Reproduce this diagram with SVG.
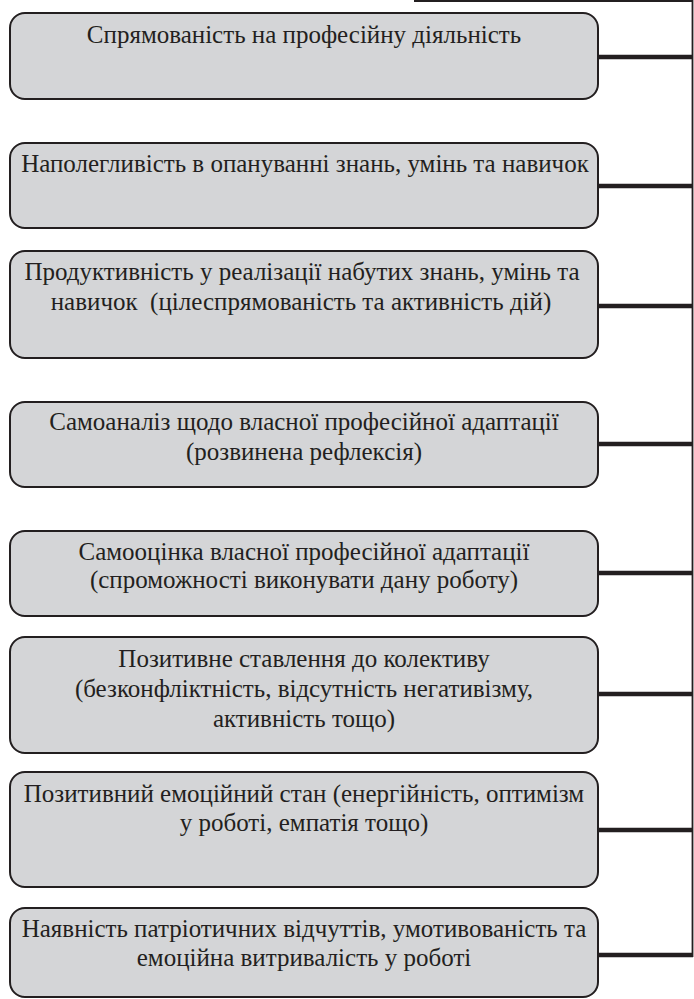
<svg xmlns="http://www.w3.org/2000/svg" width="694" height="999" viewBox="0 0 694 999">
<style>
.box{fill:#d4d5d7;stroke:#231f20;stroke-width:2}
.t{font-family:"Liberation Serif","Times New Roman",serif;font-size:25px;fill:#231f20;text-anchor:middle}
.c{stroke:#231f20;fill:none}
.thick{stroke-width:4.5}
.thin{stroke-width:1.8}
</style>
<rect width="694" height="999" fill="#ffffff"/>
<g id="connectors">
<path class="c thin" d="M414 1 H692.5 V957"/>
<path class="c thick" d="M598 57 H693"/>
<path class="c thick" d="M598 186 H693"/>
<path class="c thick" d="M598 306 H693"/>
<path class="c thick" d="M598 444 H693"/>
<path class="c thick" d="M598 573 H693"/>
<path class="c thick" d="M598 694 H693"/>
<path class="c thick" d="M598 830 H693"/>
<path class="c thick" d="M598 955 H693"/>
</g>
<g id="n1"><rect class="box" x="10" y="13" width="588" height="86" rx="15"/>
<text class="t" x="304" y="43">Спрямованість на професійну діяльність</text></g>
<g id="n2"><rect class="box" x="10" y="143" width="588" height="85" rx="15"/>
<text class="t" x="305" y="172">Наполегливість в опануванні знань, умінь та навичок</text></g>
<g id="n3"><rect class="box" x="10" y="251" width="588" height="107" rx="15"/>
<text class="t" x="302" y="280">Продуктивність у реалізації набутих знань, умінь та</text>
<text class="t" x="301" y="310">навичок&#160; (цілеспрямованість та активність дій)</text></g>
<g id="n4"><rect class="box" x="10" y="402" width="588" height="85" rx="15"/>
<text class="t" x="304" y="430">Самоаналіз щодо власної професійної адаптації</text>
<text class="t" x="304" y="460">(розвинена рефлексія)</text></g>
<g id="n5"><rect class="box" x="10" y="531" width="588" height="85" rx="15"/>
<text class="t" x="304" y="560">Самооцінка власної професійної адаптації</text>
<text class="t" x="304" y="588">(спроможності виконувати дану роботу)</text></g>
<g id="n6"><rect class="box" x="10" y="637" width="588" height="116" rx="15"/>
<text class="t" x="304" y="667">Позитивне ставлення до колективу</text>
<text class="t" x="304" y="697">(безконфліктність, відсутність негативізму,</text>
<text class="t" x="304" y="727">активність тощо)</text></g>
<g id="n7"><rect class="box" x="10" y="772" width="588" height="115" rx="15"/>
<text class="t" x="304" y="802">Позитивний емоційний стан (енергійність, оптимізм</text>
<text class="t" x="304" y="831">у роботі, емпатія тощо)</text></g>
<g id="n8"><rect class="box" x="10" y="908" width="588" height="89" rx="15"/>
<text class="t" x="304" y="937">Наявність патріотичних відчуттів, умотивованість та</text>
<text class="t" x="304" y="966">емоційна витривалість у роботі</text></g>
</svg>
